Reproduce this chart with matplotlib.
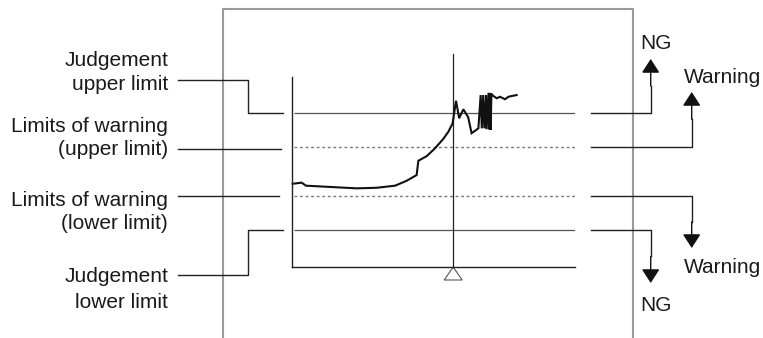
import matplotlib
matplotlib.use("Agg")
import matplotlib.pyplot as plt
from matplotlib.patches import Polygon

plt.rcParams['font.family'] = ['Liberation Sans', 'DejaVu Sans']

# measured signal (time %, value %)
t = [0.35, 3.5, 5.0, 22.9, 30.0, 36.5, 40.6, 44.1, 44.7, 47.7, 50.6, 53.5, 55.3,
     56.8, 58.0, 59.1, 60.6, 62.3, 63.5, 65.1, 65.9, 66.7, 67.1, 67.6, 68.0, 68.6,
     68.8, 69.5, 69.8, 70.1, 70.2, 70.5, 71.2, 72.4, 73.5, 75.3, 76.5, 77.7, 79.4]
val = [43.8, 44.4, 42.8, 41.4, 41.7, 42.8, 45.4, 48.4, 55.9, 58.4, 62.5, 67.4, 71.2,
       75.6, 87.5, 78.3, 83.0, 78.8, 70.4, 72.1, 73.0, 90.5, 73.0, 90.5, 73.0, 90.5,
       72.5, 91.7, 72.4, 91.6, 72.1, 91.1, 90.0, 88.8, 89.6, 88.3, 89.6, 90.0, 90.5]

judge_upper = 81.2
warn_upper = 63.3
warn_lower = 37.5
judge_lower = 19.5
cursor_t = 57.0

left_labels = [["Judgement", "upper limit"],
               ["Limits of warning", "(upper limit)"],
               ["Limits of warning", "(lower limit)"],
               ["Judgement", "lower limit"]]
right_up = ["NG", "Warning"]
right_down = ["Warning", "NG"]

W, H = 763, 338
fig = plt.figure(figsize=(W / 100, H / 100), dpi=100)

# overlay in pixel units for the annotation parts
ax = fig.add_axes([0, 0, 1, 1])
ax.set_xlim(0, W)
ax.set_ylim(H, 0)
ax.axis('off')

# inner chart
x0, x1, ytop, ybot = 291.7, 575.0, 77.0, 267.0
inner = fig.add_axes([x0 / W, (H - ybot) / H, (x1 - x0) / W, (ybot - ytop) / H])
inner.set_xlim(0, 100)
inner.set_ylim(0, 100)
inner.patch.set_alpha(0)
for s in ['top', 'right']:
    inner.spines[s].set_visible(False)
for s in ['left', 'bottom']:
    inner.spines[s].set_color('#222222')
    inner.spines[s].set_linewidth(1.0)
inner.set_xticks([])
inner.set_yticks([])

inner.hlines([judge_upper, judge_lower], 0.8, 100, color='#555555', lw=0.9)
inner.hlines([warn_upper, warn_lower], 0.8, 100, color='#777777', lw=1.0,
             linestyles=[(0, (2, 2))])
inner.plot([cursor_t, cursor_t], [0, 112], color='#222222', lw=0.9, clip_on=False)
inner.plot(t, val, color='#111111', lw=1.5, solid_joinstyle='miter', clip_on=False)


def to_px(xd, yd):
    p = inner.transData.transform((xd, yd))
    return ax.transData.inverted().transform(p)


# triangle marker under cursor
cx, cy = to_px(cursor_t, 0)
ax.add_patch(Polygon([(cx, cy), (cx - 9, cy + 13), (cx + 9, cy + 13)], closed=True,
                     facecolor='white', edgecolor='#555555', lw=0.8))

# outer frame
ax.plot([222.7, 222.7, 633, 633], [H + 5, 9, 9, H + 5], color='#999999', lw=1.5)

limits = [judge_upper, warn_upper, warn_lower, judge_lower]
ly = [to_px(0, v)[1] for v in limits]
lc = '#222222'
lw = 1.0

# left labels and connectors
base = [(66, 90), (132, 155), (206, 229), (282, 308)]
anchor = [80, 148.7, 196.3, 274.7]
ends = [283, 280.7, 278.7, 283]
for lab, b, a, yl, e in zip(left_labels, base, anchor, ly, ends):
    for txt, yb in zip(lab, b):
        ax.text(168, yb, txt, ha='right', va='baseline', fontsize=15, color='#1a1a1a')
    if abs(a - yl) > 5:
        ax.plot([178, 247.7, 247.7, e], [a, a, yl, yl], color=lc, lw=lw)
    else:
        ax.plot([178, e], [a, a], color=lc, lw=lw)

# right connectors with arrows
cols = [650.7, 691.7, 691.7, 650.7]
tips = [59, 92, 248, 283]
for yl, xc, tip in zip(ly, cols, tips):
    ax.plot([591, xc, xc], [yl, yl, (yl + tip) / 2], color=lc, lw=lw)
    ax.annotate("", xy=(xc, tip), xytext=(xc, (yl + tip) / 2),
                arrowprops=dict(arrowstyle="-|>,head_length=0.85,head_width=0.55",
                                color='#111111', lw=lw, shrinkA=0, shrinkB=0,
                                mutation_scale=10))

ax.text(640, 49, right_up[0], ha='left', va='baseline', fontsize=15, color='#1a1a1a')
ax.text(683.5, 83, right_up[1], ha='left', va='baseline', fontsize=15, color='#1a1a1a')
ax.text(683.5, 273, right_down[0], ha='left', va='baseline', fontsize=15, color='#1a1a1a')
ax.text(640, 311, right_down[1], ha='left', va='baseline', fontsize=15, color='#1a1a1a')

fig.savefig("out.png", dpi=100)
